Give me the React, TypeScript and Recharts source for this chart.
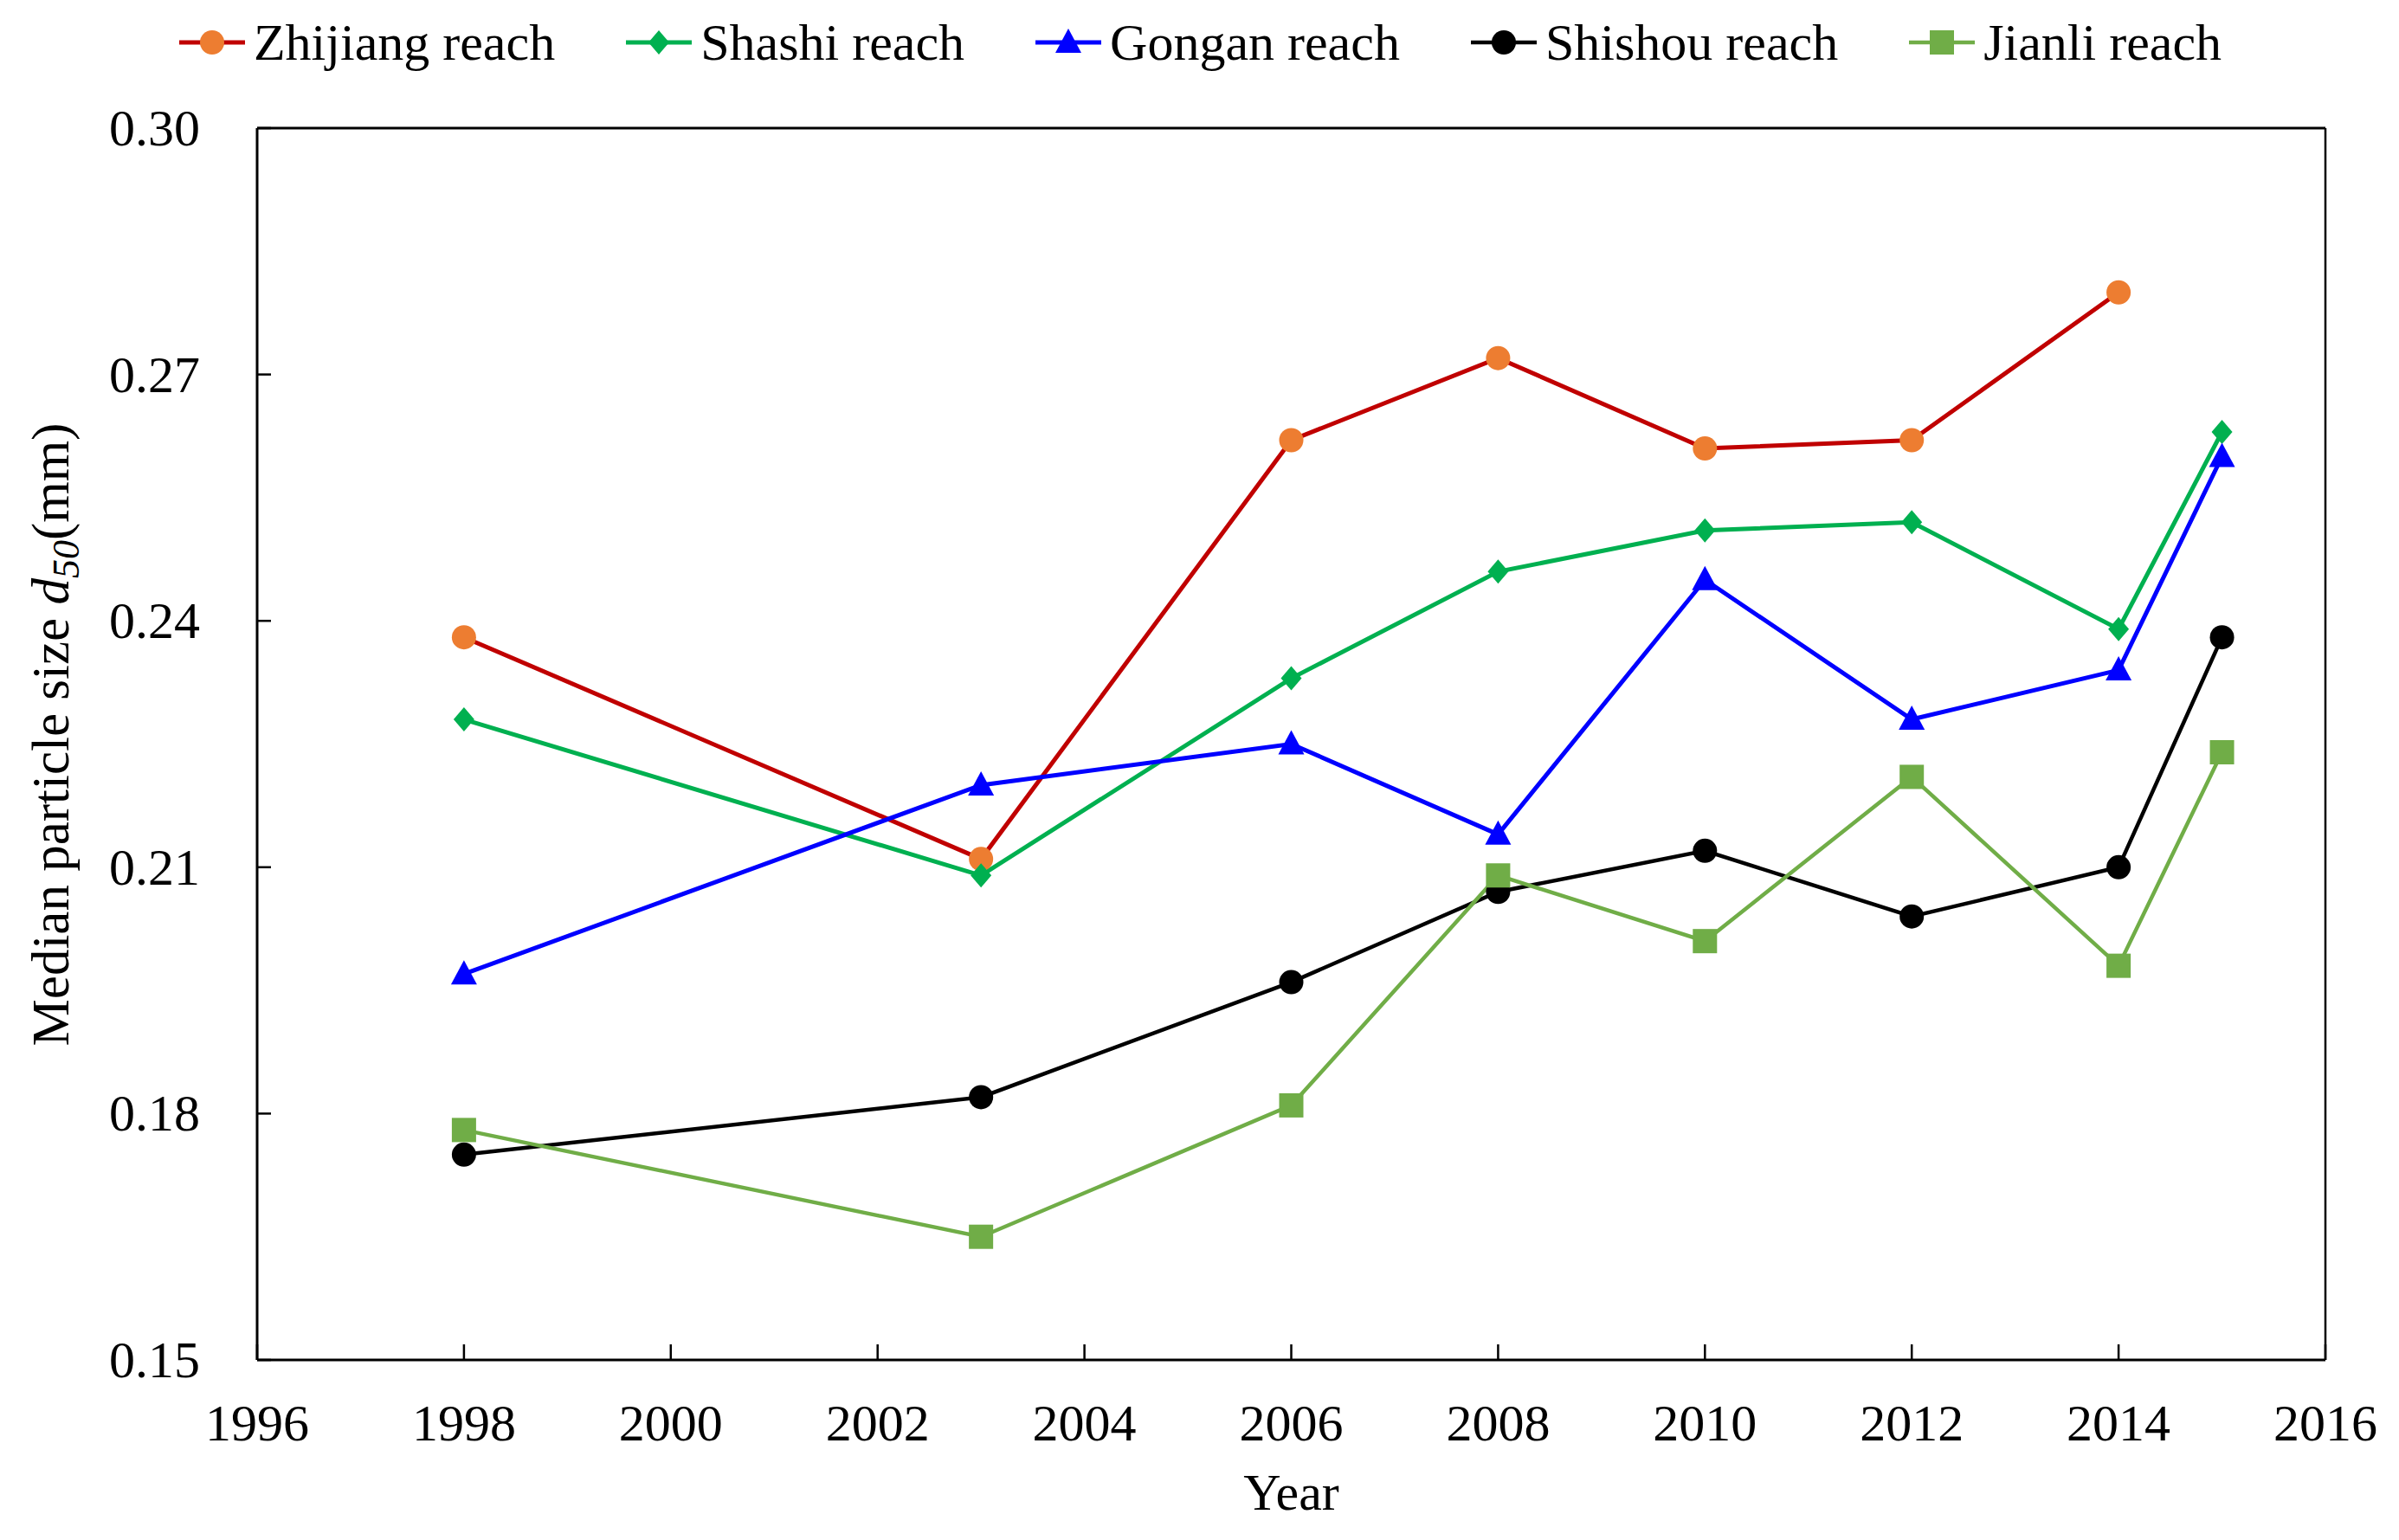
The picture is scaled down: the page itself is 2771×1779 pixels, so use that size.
import React from 'react';
import { LineChart, Line, XAxis, YAxis, Legend, ReferenceLine } from 'recharts';

const years = [1998, 2003, 2006, 2008, 2010, 2012, 2014, 2015];
const zhijiang = [0.238, 0.211, 0.262, 0.272, 0.261, 0.262, 0.28, null];
const shashi = [0.228, 0.209, 0.233, 0.246, 0.251, 0.252, 0.239, 0.263];
const gongan = [0.197, 0.22, 0.225, 0.214, 0.245, 0.228, 0.234, 0.26];
const shishou = [0.175, 0.182, 0.196, 0.207, 0.212, 0.204, 0.21, 0.238];
const jianli = [0.178, 0.165, 0.181, 0.209, 0.201, 0.221, 0.198, 0.224];
const xTicks = [1996, 1998, 2000, 2002, 2004, 2006, 2008, 2010, 2012, 2014, 2016];
const yTicks = [0.15, 0.18, 0.21, 0.24, 0.27, 0.3];

const seriesNames = ['Zhijiang reach', 'Shashi reach', 'Gongan reach', 'Shishou reach', 'Jianli reach'];

const data = years.map((y, i) => ({
  year: y,
  zhijiang: zhijiang[i],
  shashi: shashi[i],
  gongan: gongan[i],
  shishou: shishou[i],
  jianli: jianli[i],
}));

const FONT = '"Liberation Serif", "Times New Roman", serif';
const FS = 60;

const series = [
  { key: 'zhijiang', name: seriesNames[0], line: '#C00000', fill: '#ED7D31', shape: 'circle', width: 5 },
  { key: 'shashi', name: seriesNames[1], line: '#00B050', fill: '#00B050', shape: 'diamond', width: 5 },
  { key: 'gongan', name: seriesNames[2], line: '#0000FF', fill: '#0000FF', shape: 'triangle', width: 5 },
  { key: 'shishou', name: seriesNames[3], line: '#000000', fill: '#000000', shape: 'circle', width: 4.5 },
  { key: 'jianli', name: seriesNames[4], line: '#70AD47', fill: '#70AD47', shape: 'square', width: 4.5 },
];

function MarkerShape({ cx, cy, shape, fill }: any) {
  if (cx == null || cy == null || isNaN(cx) || isNaN(cy)) return <g />;
  if (shape === 'circle') return <circle cx={cx} cy={cy} r={14} fill={fill} />;
  if (shape === 'diamond')
    return <polygon points={`${cx},${cy - 14} ${cx + 12},${cy} ${cx},${cy + 14} ${cx - 12},${cy}`} fill={fill} />;
  if (shape === 'triangle')
    return <polygon points={`${cx},${cy - 16} ${cx + 15},${cy + 12} ${cx - 15},${cy + 12}`} fill={fill} />;
  return <rect x={cx - 14} y={cy - 14} width={28} height={28} fill={fill} />;
}

const XTick = (props: any) => {
  const { x, y, payload } = props;
  return (
    <g>
      <line x1={x} x2={x} y1={y} y2={y - 18} stroke="#000" strokeWidth={2.5} />
      <text x={x} y={y + 93} textAnchor="middle" fontFamily={FONT} fontSize={FS} fill="#000">
        {payload.value}
      </text>
    </g>
  );
};

const YTick = (props: any) => {
  const { x, y, payload } = props;
  return (
    <g>
      <line x1={x} x2={x + 16} y1={y} y2={y} stroke="#000" strokeWidth={2.5} />
      <text x={x - 66} y={y + 20} textAnchor="end" fontFamily={FONT} fontSize={FS} fill="#000">
        {Number(payload.value).toFixed(2)}
      </text>
    </g>
  );
};

const LegendContent = () => (
  <div
    style={{
      display: 'flex',
      justifyContent: 'center',
      alignItems: 'center',
      gap: 80,
      height: 66,
      fontFamily: FONT,
      fontSize: FS,
      color: '#000',
    }}
  >
    {series.map((s) => (
      <div key={s.key} style={{ display: 'flex', alignItems: 'center' }}>
        <svg width={80} height={40} style={{ display: 'block' }}>
          <line x1={2} x2={78} y1={20} y2={20} stroke={s.line} strokeWidth={s.width} />
          <MarkerShape cx={40} cy={20} shape={s.shape} fill={s.fill} />
        </svg>
        <span style={{ marginLeft: 8, lineHeight: '66px', whiteSpace: 'nowrap' }}>{s.name}</span>
      </div>
    ))}
  </div>
);

const YLabel = (props: any) => {
  const vb = props.viewBox || {};
  const cy = (vb.y || 0) + (vb.height || 0) / 2 - 11;
  return (
    <text transform={`translate(71, ${cy}) rotate(-90)`} textAnchor="middle" fontFamily={FONT} fontSize={61} fill="#000">
      <tspan>Median particle size </tspan>
      <tspan fontStyle="italic">d</tspan>
      <tspan fontStyle="italic" fontSize={44} dy={12}>50</tspan>
      <tspan dy={-12}>(mm)</tspan>
    </text>
  );
};

const XLabel = (props: any) => {
  const vb = props.viewBox || {};
  return (
    <text x={(vb.x || 0) + (vb.width || 0) / 2} y={(vb.y || 0) + 173} textAnchor="middle" fontFamily={FONT} fontSize={FS} fill="#000">
      Year
    </text>
  );
};

export default function App() {
  return (
    <div style={{ width: 2755, height: 1763, background: '#fff' }}>
      <LineChart
        width={2755}
        height={1763}
        data={data}
        margin={{ top: 74, right: 77, left: 0, bottom: 0 }}
      >
        <XAxis
          dataKey="year"
          type="number"
          domain={[1996, 2016]}
          ticks={xTicks}
          interval={0}
          allowDataOverflow
          height={200}
          tickSize={0}
          tickMargin={0}
          tickLine={false}
          axisLine={{ stroke: '#000', strokeWidth: 3 }}
          tick={<XTick />}
          label={<XLabel />}
        />
        <YAxis
          type="number"
          domain={[0.15, 0.3]}
          ticks={yTicks}
          interval={0}
          allowDataOverflow
          width={289}
          tickSize={0}
          tickMargin={0}
          tickLine={false}
          axisLine={{ stroke: '#000', strokeWidth: 3 }}
          tick={<YTick />}
          label={<YLabel />}
        />
        <ReferenceLine y={0.3} stroke="#000" strokeWidth={3} ifOverflow="visible" />
        <ReferenceLine x={2016} stroke="#000" strokeWidth={2.5} ifOverflow="visible" />
        <Legend
          verticalAlign="top"
          align="center"
          content={<LegendContent />}
          wrapperStyle={{ top: 8, left: 0, width: 2755 }}
        />
        {series.map((s) => (
          <Line
            key={s.key}
            dataKey={s.key}
            name={s.name}
            type="linear"
            stroke={s.line}
            strokeWidth={s.width}
            isAnimationActive={false}
            connectNulls={false}
            dot={(p: any) => <MarkerShape key={`${s.key}-${p.index}`} cx={p.cx} cy={p.cy} shape={s.shape} fill={s.fill} />}
            activeDot={false}
            legendType="none"
          />
        ))}
      </LineChart>
    </div>
  );
}
